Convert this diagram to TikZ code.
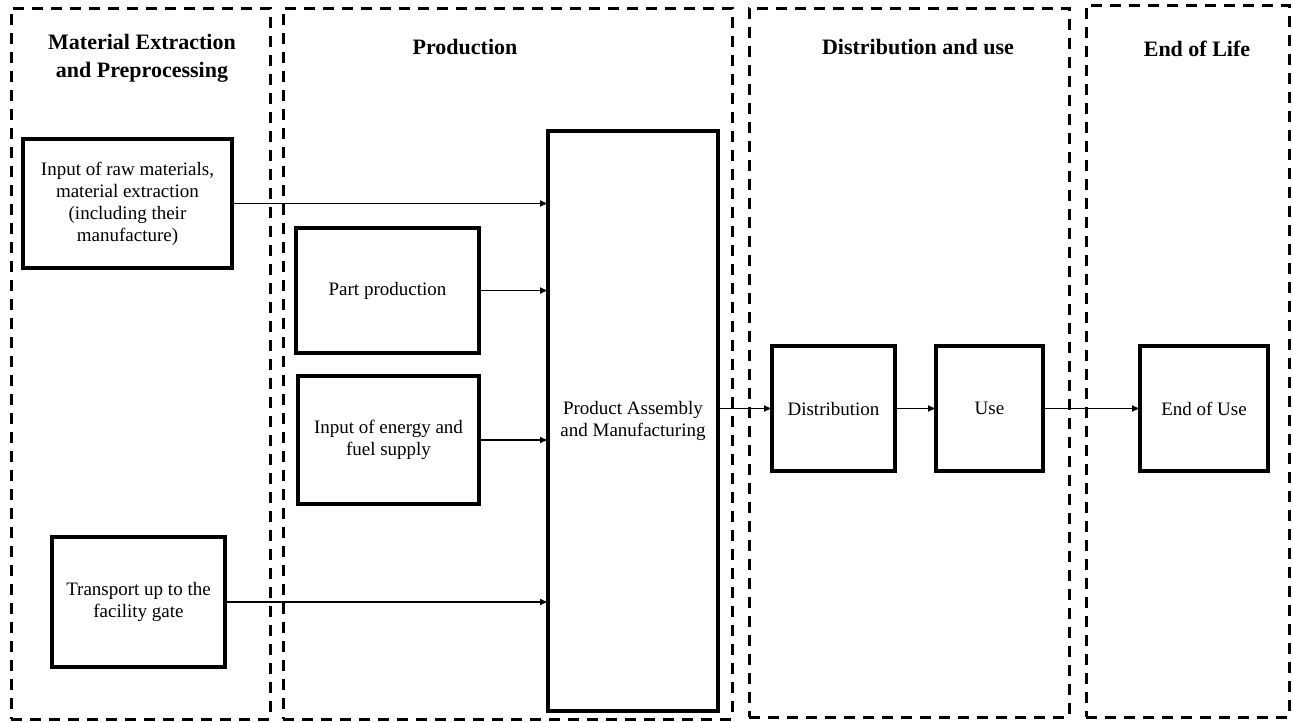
\documentclass[tikz,border=0pt]{standalone}
\usepackage{fontspec}
\setmainfont{Liberation Serif}
\usetikzlibrary{arrows.meta}
\begin{document}
\begin{tikzpicture}[x=1pt,y=-1pt,
  group/.style={draw, line width=3pt, dash pattern=on 11pt off 8pt, rectangle, inner sep=0pt, outer sep=0pt},
  title/.style={align=center, inner sep=0pt, font=\bfseries\fontsize{22}{28}\selectfont},
  box/.style={draw, line width=4pt, rectangle, align=center, inner sep=2pt, outer sep=0pt, font=\fontsize{19}{22}\selectfont},
  flow/.style={line width=1.1pt, -{Latex[length=8pt,width=7pt]}}
]
\useasboundingbox (0,0) rectangle (1293,721);
% groups
\node[group, minimum width=259pt, minimum height=711pt] (g1) at (140.5,363.5) {};
\node[group, minimum width=449pt, minimum height=711pt] (g2) at (507.5,363.5) {};
\node[group, minimum width=320pt, minimum height=709pt] (g3) at (909,362.5) {};
\node[group, minimum width=203pt, minimum height=712pt] (g4) at (1187.5,361) {};
% titles
\node[title] (t1) at (142,58) {Material Extraction\\and Preprocessing};
\node[title] (t2) at (465,47) {Production};
\node[title] (t3) at (918,47) {Distribution and use};
\node[title] (t4) at (1197,49) {End of Life};
% boxes
\node[box, minimum width=209pt, minimum height=129pt] (raw) at (127.5,203.5) {Input of raw materials,\\material extraction\\(including their\\manufacture)};
\node[box, minimum width=183pt, minimum height=125pt] (part) at (387.5,290.5) {Part production};
\node[box, minimum width=181pt, minimum height=128pt] (energy) at (388.5,440) {Input of energy and\\fuel supply};
\node[box, minimum width=173pt, minimum height=130pt] (transport) at (138.5,602) {Transport up to the\\facility gate};
\node[box, minimum width=170pt, minimum height=580pt] (asm) at (633,421) {Product Assembly\\and Manufacturing};
\node[box, minimum width=123pt, minimum height=125pt] (dist) at (833.5,408.5) {Distribution};
\node[box, minimum width=107pt, minimum height=125pt] (use) at (989.5,408.5) {Use};
\node[box, minimum width=128pt, minimum height=125pt] (eou) at (1204,408.5) {End of Use};
% connectors
\draw[flow] (raw.east) -- (raw.east -| asm.west);
\draw[flow] (part.east) -- (part.east -| asm.west);
\draw[flow] (energy.east) -- (energy.east -| asm.west);
\draw[flow] (transport.east) -- (transport.east -| asm.west);
\draw[flow] (dist.west -| asm.east) -- (dist.west);
\draw[flow] (dist.east) -- (use.west);
\draw[flow] (use.east) -- (eou.west);
\end{tikzpicture}
\end{document}
